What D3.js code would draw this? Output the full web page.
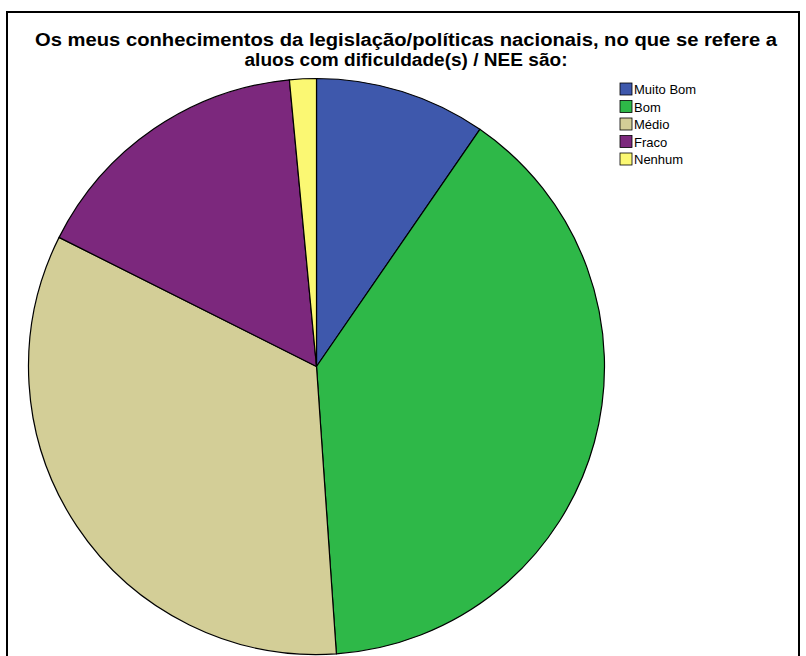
<!DOCTYPE html>
<html><head><meta charset="utf-8">
<script src="https://cdn.jsdelivr.net/npm/d3@7/dist/d3.min.js"></script>
<style>html,body{margin:0;padding:0;background:#fff;}</style>
</head><body>
<svg id="chart" width="806" height="656"></svg>
<script>
const categories = ["Muito Bom", "Bom", "Médio", "Fraco", "Nenhum"];
const values = [9.6, 39.3, 33.5, 16.1, 1.5];
const colors = ["#3E58AC", "#2EB848", "#D3CE97", "#7C287D", "#FBF873"];
const titleLines = ["Os meus conhecimentos da legislação/políticas nacionais, no que se refere a", "aluos com dificuldade(s) / NEE são:"];

const svg = d3.select("#chart");
svg.append("rect").attr("x", 7).attr("y", 12).attr("width", 792).attr("height", 660)
  .attr("fill", "#fff").attr("stroke", "#000").attr("stroke-width", 2);

const titleLens = [742, 323];
svg.selectAll("text.title").data(titleLines).join("text").attr("class", "title")
  .attr("x", 406).attr("y", (d, i) => 45.5 + i * 20.5)
  .attr("text-anchor", "middle")
  .attr("font-family", "Liberation Sans, Arial, sans-serif")
  .attr("font-weight", "bold").attr("font-size", 18)
  .attr("textLength", (d, i) => titleLens[i]).attr("lengthAdjust", "spacingAndGlyphs")
  .text(d => d);

const data = categories.map((c, i) => ({cat: c, value: values[i], color: colors[i]}));
const pie = d3.pie().sort(null).value(d => d.value);
const arc = d3.arc().innerRadius(0).outerRadius(288);
const g = svg.append("g").attr("transform", "translate(316.5,366.5)");
g.selectAll("path").data(pie(data)).join("path")
  .attr("d", arc).attr("fill", d => d.data.color)
  .attr("stroke", "#000").attr("stroke-width", 1.2).attr("stroke-linejoin", "round");

const leg = svg.append("g").attr("transform", "translate(620,83)");
const items = leg.selectAll("g").data(data).join("g")
  .attr("transform", (d, i) => `translate(0,${i * 17.5})`);
items.append("rect").attr("width", 12).attr("height", 12)
  .attr("fill", d => d.color).attr("stroke", "#000").attr("stroke-width", 0.8);
items.append("text").attr("x", 14).attr("y", 11)
  .attr("font-family", "Liberation Sans, Arial, sans-serif").attr("font-size", 13)
  .text(d => d.cat);
</script>
</body></html>
